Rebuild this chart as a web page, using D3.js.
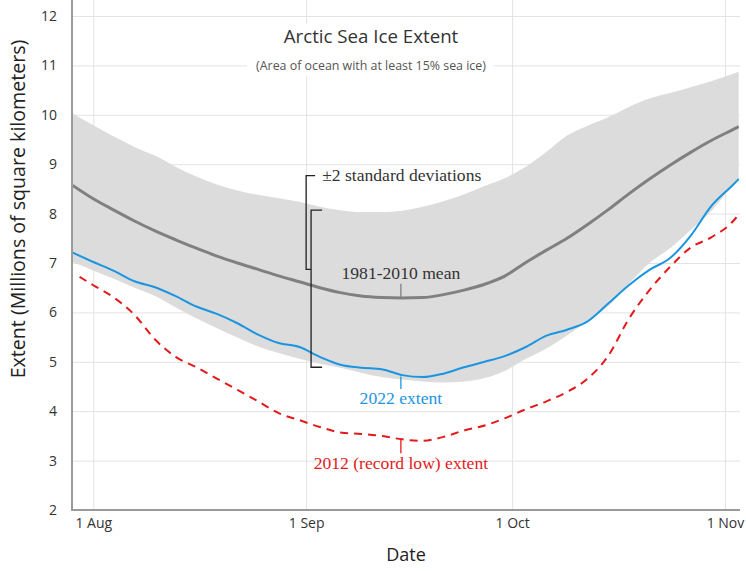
<!DOCTYPE html>
<html><head><meta charset="utf-8">
<script src="https://cdn.jsdelivr.net/npm/d3@7"></script>
<style>
html,body{margin:0;padding:0;background:#fff;}
svg{display:block;}
</style></head>
<body>
<svg id="chart" width="746" height="571"></svg>
<script>
// ---- data ----
const gridDates = ["2022-07-29","2022-08-01","2022-08-04","2022-08-07","2022-08-10","2022-08-13","2022-08-16","2022-08-19","2022-08-22","2022-08-25","2022-08-28","2022-08-31","2022-09-03","2022-09-06","2022-09-09","2022-09-12","2022-09-15","2022-09-18","2022-09-21","2022-09-24","2022-09-27","2022-09-30","2022-10-03","2022-10-06","2022-10-09","2022-10-12","2022-10-15","2022-10-18","2022-10-21","2022-10-24","2022-10-27","2022-10-30","2022-11-02","2022-11-03"];
const meanValues  = [8.57,8.30,8.07,7.85,7.65,7.47,7.30,7.14,7.00,6.87,6.74,6.62,6.50,6.40,6.33,6.30,6.29,6.30,6.36,6.45,6.57,6.74,7.01,7.26,7.50,7.78,8.08,8.40,8.70,8.98,9.24,9.48,9.69,9.76];
const upperValues = [10.02,9.79,9.56,9.35,9.17,8.95,8.75,8.59,8.47,8.38,8.31,8.24,8.14,8.07,8.03,8.03,8.06,8.14,8.25,8.39,8.56,8.72,8.95,9.25,9.58,9.78,9.95,10.16,10.33,10.44,10.56,10.68,10.82,10.87];
const lowerValues = [7.02,6.85,6.68,6.50,6.33,6.10,5.88,5.68,5.49,5.31,5.18,5.06,4.96,4.88,4.78,4.69,4.64,4.60,4.58,4.60,4.67,4.82,5.06,5.27,5.53,5.83,6.13,6.58,7.00,7.30,7.67,8.05,8.55,8.70];
const values2022  = [7.21,7.02,6.84,6.63,6.51,6.33,6.12,5.97,5.78,5.55,5.38,5.30,5.10,4.94,4.88,4.85,4.73,4.69,4.76,4.89,5.00,5.12,5.30,5.53,5.65,5.82,6.18,6.55,6.86,7.10,7.55,8.15,8.56,8.70];
const dates2012 = ["2022-07-30","2022-08-01","2022-08-04","2022-08-07","2022-08-10","2022-08-13","2022-08-16","2022-08-19","2022-08-22","2022-08-25","2022-08-28","2022-08-31","2022-09-03","2022-09-06","2022-09-09","2022-09-12","2022-09-15","2022-09-18","2022-09-21","2022-09-24","2022-09-27","2022-09-30","2022-10-03","2022-10-06","2022-10-09","2022-10-12","2022-10-15","2022-10-18","2022-10-21","2022-10-24","2022-10-27","2022-10-30","2022-11-02","2022-11-03"];
const values2012 = [6.72,6.55,6.30,5.95,5.45,5.10,4.89,4.66,4.43,4.20,3.96,3.82,3.68,3.57,3.54,3.50,3.43,3.40,3.48,3.61,3.71,3.86,4.04,4.20,4.39,4.66,5.12,5.87,6.45,6.92,7.31,7.52,7.82,7.98];
const yTicks = [2,3,4,5,6,7,8,9,10,11,12];
const xTickDates = ["2022-08-01","2022-09-01","2022-10-01","2022-11-01"];
const xTickLabels = ["1 Aug","1 Sep","1 Oct","1 Nov"];
const titleText = "Arctic Sea Ice Extent";
const subtitleText = "(Area of ocean with at least 15% sea ice)";
const yTitle = "Extent (Millions of square kilometers)";
const xTitle = "Date";

// ---- setup ----
const parse = d3.utcParse("%Y-%m-%d");
const DAY = 864e5;
const svg = d3.select("#chart");
const pL = 72, pR = 740, pT = 0, pB = 510;

const x = d3.scaleUtc()
  .domain([new Date(parse("2022-08-01").getTime() - 3.1*DAY), new Date(parse("2022-11-01").getTime() + 2.19*DAY)])
  .range([pL, pR]);
const y = d3.scaleLinear().domain([2, 12]).range([pB, 16]);

const band = gridDates.map((d,i)=>({date:parse(d), lo:lowerValues[i], hi:upperValues[i]}));
const mean = gridDates.map((d,i)=>({date:parse(d), v:meanValues[i]}));
const s2022 = gridDates.map((d,i)=>({date:parse(d), v:values2022[i]}));
const s2012 = dates2012.map((d,i)=>({date:parse(d), v:values2012[i]}));

svg.append("defs").append("clipPath").attr("id","clip")
  .append("rect").attr("x",pL).attr("y",pT).attr("width",pR-pL).attr("height",pB-pT);

const fontSans = "'Open Sans', 'Noto Sans', sans-serif";
const fontSerif = "'Liberation Serif', 'DejaVu Serif', serif";

// grid (via axes)
const gy = svg.append("g").attr("transform",`translate(${pL},0)`)
  .call(d3.axisLeft(y).tickValues(yTicks).tickSize(-(pR-pL)).tickPadding(15).tickFormat(d3.format("d")));
gy.select(".domain").remove();
gy.selectAll(".tick line").attr("stroke","#e3e3e3").attr("stroke-width",1);
gy.selectAll(".tick text").attr("fill","#333").style("font-family",fontSans).style("font-size","14px");

const gx = svg.append("g").attr("transform",`translate(0,${pB})`)
  .call(d3.axisBottom(x).tickValues(xTickDates.map(parse)).tickSize(-(pB-pT)).tickPadding(8)
    .tickFormat((d,i)=>xTickLabels[i]));
gx.select(".domain").remove();
gx.selectAll(".tick line").attr("stroke","#e3e3e3").attr("stroke-width",1);
gx.selectAll(".tick text").attr("fill","#333").style("font-family",fontSans).style("font-size","14px");

const plot = svg.append("g").attr("clip-path","url(#clip)");

// band
plot.append("path").datum(band)
  .attr("fill","#dcdcdc")
  .attr("d", d3.area().x(d=>x(d.date)).y0(d=>y(d.lo)).y1(d=>y(d.hi)).curve(d3.curveMonotoneX));

// lines
const line = d3.line().x(d=>x(d.date)).y(d=>y(d.v)).curve(d3.curveMonotoneX);
plot.append("path").datum(mean).attr("fill","none").attr("stroke","#808080").attr("stroke-width",3).attr("d",line);
plot.append("path").datum(s2012).attr("fill","none").attr("stroke","#e31a1c").attr("stroke-width",2)
  .attr("stroke-dasharray","8,6").attr("d",line);
plot.append("path").datum(s2022).attr("fill","none").attr("stroke","#1b95e0").attr("stroke-width",2).attr("d",line);

// axis lines
svg.append("line").attr("x1",pL).attr("x2",pL).attr("y1",pT).attr("y2",pB+1)
  .attr("stroke","#9a9a9a").attr("stroke-width",2);
svg.append("line").attr("x1",pL-1).attr("x2",pR).attr("y1",pB).attr("y2",pB)
  .attr("stroke","#9a9a9a").attr("stroke-width",2);

// title block
svg.append("rect").attr("x",247).attr("y",24).attr("width",246).attr("height",52).attr("fill","#fff");
svg.append("text").attr("x",371).attr("y",43).attr("text-anchor","middle")
  .style("font-family",fontSans).style("font-size","18.7px").attr("fill","#333").text(titleText);
svg.append("text").attr("x",371).attr("y",70).attr("text-anchor","middle")
  .style("font-family",fontSans).style("font-size","12.4px").attr("fill","#555").text(subtitleText);

// axis titles
svg.append("text").attr("transform","translate(25,209) rotate(-90)").attr("text-anchor","middle")
  .style("font-family",fontSans).style("font-size","19.6px").attr("fill","#222").text(yTitle);
svg.append("text").attr("x",406).attr("y",561).attr("text-anchor","middle")
  .style("font-family",fontSans).style("font-size","18px").attr("fill","#222").text(xTitle);

// annotations
const ann = svg.append("g");
const fs = "17.6px";
const sep1 = parse("2022-09-01").getTime();
const bx1 = x(new Date(sep1)), bx2 = x(new Date(sep1 + 0.72*DAY));
ann.append("path").attr("fill","none").attr("stroke","#222").attr("stroke-width",1.3)
  .attr("d",`M${bx1+9},${y(8.77)}H${bx1}V${y(6.87)}H${bx2}`);
ann.append("path").attr("fill","none").attr("stroke","#222").attr("stroke-width",1.3)
  .attr("d",`M${bx2+11},${y(8.07)}H${bx2}V${y(4.89)}H${bx2+11}`);
ann.append("text").attr("x",bx1+16).attr("y",y(8.77)+5)
  .style("font-family",fontSerif).style("font-size",fs).attr("fill","#333").text("±2 standard deviations");

const ax = x(new Date(parse("2022-09-15").getTime() - 0.2*DAY));
ann.append("line").attr("x1",ax).attr("x2",ax).attr("y1",y(6.58)).attr("y2",y(6.31))
  .attr("stroke","#808080").attr("stroke-width",1.3);
ann.append("text").attr("x",ax).attr("y",y(6.67)).attr("text-anchor","middle")
  .style("font-family",fontSerif).style("font-size",fs).attr("fill","#333").text("1981-2010 mean");

ann.append("line").attr("x1",ax).attr("x2",ax).attr("y1",y(4.70)).attr("y2",y(4.45))
  .attr("stroke","#1b95e0").attr("stroke-width",1.3);
ann.append("text").attr("x",ax).attr("y",y(4.15)).attr("text-anchor","middle")
  .style("font-family",fontSerif).style("font-size",fs).attr("fill","#1b95e0").text("2022 extent");

ann.append("line").attr("x1",ax).attr("x2",ax).attr("y1",y(3.42)).attr("y2",y(3.15))
  .attr("stroke","#e31a1c").attr("stroke-width",1.3);
ann.append("text").attr("x",ax).attr("y",y(2.83)).attr("text-anchor","middle")
  .style("font-family",fontSerif).style("font-size",fs).attr("fill","#e31a1c").text("2012 (record low) extent");
</script>
</body></html>
